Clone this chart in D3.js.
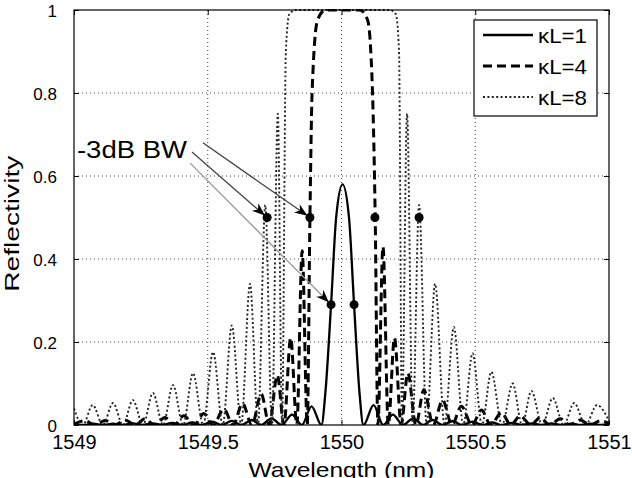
<!DOCTYPE html>
<html>
<head>
<meta charset="utf-8">
<script src="https://cdn.jsdelivr.net/npm/d3@7"></script>
<style>
  body { margin: 0; background: #fff; }
  text { font-family: "Liberation Sans", Arial, sans-serif; fill: #000; }
</style>
</head>
<body>
<script>
// kL = 1 (solid)
var wl1 = [1549.000, 1549.035, 1549.072, 1549.108, 1549.146, 1549.182, 1549.220, 1549.256, 1549.294, 1549.330,
           1549.368, 1549.404, 1549.442, 1549.478, 1549.516, 1549.552, 1549.590, 1549.626, 1549.664, 1549.700,
           1549.738, 1549.776, 1549.815, 1549.852, 1549.888, 1549.925, 1549.940, 1549.961, 1549.980, 1550.004,
           1550.028, 1550.047, 1550.067, 1550.082, 1550.120, 1550.156, 1550.192, 1550.230, 1550.268, 1550.305,
           1550.340, 1550.378, 1550.415, 1550.450, 1550.490, 1550.527, 1550.563, 1550.600, 1550.637, 1550.674,
           1550.710, 1550.748, 1550.785, 1550.820, 1550.860, 1550.895, 1550.933, 1550.970, 1551.000];
var r1 = [0.003, 0, 0.003, 0, 0.003, 0, 0.004, 0, 0.004, 0,
          0.005, 0, 0.006, 0, 0.008, 0, 0.010, 0, 0.012, 0,
          0.016, 0, 0.025, 0, 0.045, 0, 0.08, 0.29, 0.50, 0.58,
          0.50, 0.29, 0.08, 0, 0.048, 0, 0.025, 0, 0.016, 0,
          0.012, 0, 0.010, 0, 0.008, 0, 0.006, 0, 0.005, 0,
          0.004, 0, 0.004, 0, 0.003, 0, 0.003, 0, 0.002];

// kL = 4 (dashed)
var wl4 = [1549.000, 1549.040, 1549.080, 1549.115, 1549.155, 1549.190, 1549.230, 1549.265, 1549.300, 1549.340,
           1549.375, 1549.410, 1549.450, 1549.485, 1549.520, 1549.560, 1549.595, 1549.630, 1549.665, 1549.700,
           1549.730, 1549.760, 1549.785, 1549.810, 1549.833, 1549.853, 1549.872, 1549.882, 1549.890, 1549.910,
           1549.940, 1550.004, 1550.068, 1550.098, 1550.116, 1550.126, 1550.136, 1550.155, 1550.175, 1550.198,
           1550.223, 1550.248, 1550.278, 1550.308, 1550.343, 1550.378, 1550.413, 1550.448, 1550.488, 1550.523,
           1550.558, 1550.598, 1550.633, 1550.668, 1550.708, 1550.743, 1550.778, 1550.818, 1550.853, 1550.893,
           1550.928, 1550.968, 1551.000];
var r4 = [0.002, 0.010, 0, 0.011, 0, 0.012, 0, 0.015, 0, 0.018,
          0, 0.022, 0, 0.028, 0, 0.038, 0, 0.052, 0, 0.075,
          0, 0.12, 0, 0.21, 0, 0.42, 0, 0.50, 0.80, 0.975,
          1.0, 1.0, 1.0, 0.975, 0.80, 0.50, 0, 0.43, 0, 0.21,
          0, 0.125, 0, 0.085, 0, 0.06, 0, 0.045, 0, 0.036,
          0, 0.03, 0, 0.022, 0, 0.018, 0, 0.015, 0, 0.012,
          0, 0.010, 0.004];

// kL = 8 (dotted)
var wl8 = [1549.000, 1549.033, 1549.070, 1549.108, 1549.146, 1549.183, 1549.220, 1549.258, 1549.295, 1549.333,
           1549.370, 1549.408, 1549.445, 1549.483, 1549.520, 1549.556, 1549.590, 1549.625, 1549.658, 1549.688,
           1549.715, 1549.740, 1549.762, 1549.778, 1549.792, 1549.805, 1549.830, 1550.180, 1550.203, 1550.215,
           1550.226, 1550.245, 1550.266, 1550.290, 1550.318, 1550.350, 1550.385, 1550.420, 1550.455, 1550.490,
           1550.525, 1550.560, 1550.600, 1550.640, 1550.675, 1550.710, 1550.750, 1550.790, 1550.830, 1550.870,
           1550.912, 1550.955, 1551.000];
var r8 = [0.04, 0, 0.048, 0, 0.053, 0, 0.06, 0, 0.077, 0,
          0.096, 0, 0.125, 0, 0.176, 0, 0.24, 0, 0.34, 0,
          0.53, 0, 0.75, 0, 0.90, 0.99, 1.0, 1.0, 0.99, 0.90,
          0, 0.75, 0, 0.53, 0, 0.34, 0, 0.236, 0, 0.173,
          0, 0.128, 0, 0.10, 0, 0.082, 0, 0.065, 0, 0.053,
          0, 0.048, 0.01];

// -3dB bandwidth markers
var dotWl = [1549.722, 1549.882, 1549.961, 1550.047, 1550.125, 1550.290];
var dotR = [0.5, 0.5, 0.29, 0.29, 0.5, 0.5];

// annotation arrows: start point -> marker index
var arrowWl = [1549.482, 1549.441, 1549.434];
var arrowR = [0.680, 0.658, 0.631];
var arrowTo = [1, 0, 2];
var arrowColor = ["#444", "#444", "#999"];

var xTicks = [1549, 1549.5, 1550, 1550.5, 1551];
var yTicks = [0, 0.2, 0.4, 0.6, 0.8, 1];
var seriesNames = ["\u03baL=1", "\u03baL=4", "\u03baL=8"];

var chartMaker = function(){
  var width = 632, height = 478;
  var mLeft = 74, mRight = 609, mTop = 10, mBottom = 425;

  var svg = d3.select("body").append("svg")
    .attr("width", width)
    .attr("height", height);

  var x = d3.scaleLinear().domain([1549, 1551]).range([mLeft, mRight]);
  var y = d3.scaleLinear().domain([0, 1]).range([mBottom, mTop]);

  svg.append("clipPath").attr("id", "clip")
    .append("rect")
    .attr("x", mLeft).attr("y", mTop - 1)
    .attr("width", mRight - mLeft).attr("height", mBottom - mTop + 1);

  // grid
  svg.append("g").selectAll("line")
    .data(xTicks.slice(1, -1))
    .enter().append("line")
    .attr("x1", function(d){ return x(d); })
    .attr("x2", function(d){ return x(d); })
    .attr("y1", mTop).attr("y2", mBottom)
    .attr("stroke", "#444").attr("stroke-width", 1)
    .attr("stroke-dasharray", "1,3");

  svg.append("g").selectAll("line")
    .data(yTicks.slice(1, -1))
    .enter().append("line")
    .attr("y1", function(d){ return y(d); })
    .attr("y2", function(d){ return y(d); })
    .attr("x1", mLeft).attr("x2", mRight)
    .attr("stroke", "#444").attr("stroke-width", 1)
    .attr("stroke-dasharray", "1,3");

  // curves
  var line = d3.line()
    .x(function(d){ return x(d[0]); })
    .y(function(d){ return y(d[1]); })
    .curve(d3.curveMonotoneX);

  var series = [
    { wl: wl1, r: r1, dash: null, w: 2.3, c: "#000" },
    { wl: wl4, r: r4, dash: "9,5", w: 3, c: "#000" },
    { wl: wl8, r: r8, dash: "2,2.4", w: 1.9, c: "#222" }
  ];

  var plot = svg.append("g").attr("clip-path", "url(#clip)");
  series.forEach(function(s){
    var pts = s.wl.map(function(d, i){ return [d, s.r[i]]; });
    plot.append("path")
      .attr("d", line(pts))
      .attr("fill", "none")
      .attr("stroke", s.c)
      .attr("stroke-width", s.w)
      .attr("stroke-dasharray", s.dash);
  });

  // frame and ticks
  svg.append("rect")
    .attr("x", mLeft).attr("y", mTop)
    .attr("width", mRight - mLeft).attr("height", mBottom - mTop)
    .attr("fill", "none").attr("stroke", "#000").attr("stroke-width", 1.2);

  var xAxis = d3.axisBottom(x).tickValues(xTicks).tickSize(-5).tickFormat(d3.format("")).tickPadding(10);
  var gx = svg.append("g").attr("transform", "translate(0," + mBottom + ")").call(xAxis);
  gx.select(".domain").remove();
  gx.selectAll("text").style("font-size", "20px").attr("fill", "#000");

  var gxTop = svg.append("g").attr("transform", "translate(0," + mTop + ")")
    .call(d3.axisTop(x).tickValues(xTicks).tickSize(-5).tickFormat(""));
  gxTop.select(".domain").remove();

  var yAxis = d3.axisLeft(y).tickValues(yTicks).tickSize(-5).tickFormat(d3.format("")).tickPadding(17);
  var gy = svg.append("g").attr("transform", "translate(" + mLeft + ",0)").call(yAxis);
  gy.select(".domain").remove();
  gy.selectAll("text").style("font-size", "17px").attr("dy", "0.4em").attr("fill", "#000");

  var gyR = svg.append("g").attr("transform", "translate(" + mRight + ",0)")
    .call(d3.axisRight(y).tickValues(yTicks).tickSize(-5).tickFormat(""));
  gyR.select(".domain").remove();

  // axis titles
  svg.append("text")
    .attr("x", x(1550)).attr("y", 477)
    .attr("text-anchor", "middle")
    .attr("textLength", 186)
    .attr("lengthAdjust", "spacingAndGlyphs")
    .style("font-size", "21px")
    .text("Wavelength (nm)");

  svg.append("text")
    .attr("transform", "translate(19," + y(0.485) + ") rotate(-90)")
    .attr("text-anchor", "middle")
    .attr("textLength", 136)
    .attr("lengthAdjust", "spacingAndGlyphs")
    .style("font-size", "20px")
    .text("Reflectivity");

  // markers
  svg.append("g").selectAll("circle")
    .data(dotWl)
    .enter().append("circle")
    .attr("cx", function(d){ return x(d); })
    .attr("cy", function(d, i){ return y(dotR[i]); })
    .attr("r", 4.5)
    .attr("fill", "#000");

  // annotation
  svg.append("text")
    .attr("x", x(1549.011)).attr("y", y(0.643))
    .attr("textLength", 110)
    .attr("lengthAdjust", "spacingAndGlyphs")
    .style("font-size", "23px")
    .text("-3dB BW");

  arrowWl.forEach(function(d, i){
    var x0 = x(d), y0 = y(arrowR[i]);
    var x1 = x(dotWl[arrowTo[i]]), y1 = y(dotR[arrowTo[i]]);
    var a = Math.atan2(y1 - y0, x1 - x0);
    var tx = x1 - 3 * Math.cos(a), ty = y1 - 3 * Math.sin(a);
    var len = 13, half = 5;
    var bx = tx - len * Math.cos(a), by = ty - len * Math.sin(a);
    var nx = -Math.sin(a), ny = Math.cos(a);
    var mx = tx - 0.7 * len * Math.cos(a), my = ty - 0.7 * len * Math.sin(a);
    svg.append("line")
      .attr("x1", x0).attr("y1", y0)
      .attr("x2", mx).attr("y2", my)
      .attr("stroke", arrowColor[i]).attr("stroke-width", 1.3);
    svg.append("path")
      .attr("d", "M" + tx + "," + ty +
                 "L" + (bx + half * nx) + "," + (by + half * ny) +
                 "L" + mx + "," + my +
                 "L" + (bx - half * nx) + "," + (by - half * ny) + "Z")
      .attr("fill", "#000");
  });

  // legend
  var lg = svg.append("g");
  lg.append("rect")
    .attr("x", 474).attr("y", 20)
    .attr("width", 123).attr("height", 96)
    .attr("fill", "#fff").attr("stroke", "#000").attr("stroke-width", 1.2);

  seriesNames.forEach(function(name, i){
    var ly = 35 + i * 31;
    lg.append("line")
      .attr("x1", 483).attr("x2", 533)
      .attr("y1", ly).attr("y2", ly)
      .attr("stroke", series[i].c)
      .attr("stroke-width", series[i].w)
      .attr("stroke-dasharray", series[i].dash);
    lg.append("text")
      .attr("x", 538).attr("y", ly + 8)
      .attr("textLength", 49)
      .attr("lengthAdjust", "spacingAndGlyphs")
      .style("font-size", "21px")
      .text(name);
  });
};

chartMaker();
</script>
</body>
</html>
